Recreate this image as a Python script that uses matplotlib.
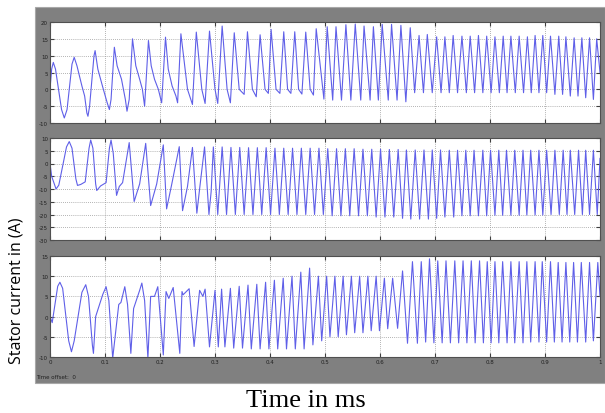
import matplotlib
matplotlib.use("Agg")
import matplotlib.pyplot as plt
from matplotlib.patches import Rectangle

# ---------------- data ----------------
top_t = [0, 0.003, 0.006, 0.010, 0.021, 0.026, 0.031, 0.040, 0.044, 0.049, 0.058, 0.063,
         0.067, 0.069, 0.072, 0.080, 0.082, 0.087, 0.092, 0.097, 0.104, 0.108, 0.111,
         0.117, 0.122, 0.130, 0.137, 0.140, 0.144,
         0.150, 0.156, 0.163, 0.168, 0.172, 0.179, 0.184, 0.190, 0.197, 0.203, 0.210, 0.215,
         0.222, 0.229, 0.232,
         0.238, 0.250, 0.259, 0.266, 0.276, 0.282, 0.290, 0.300, 0.305, 0.313, 0.322,
         0.328, 0.335, 0.344, 0.353, 0.359, 0.368, 0.375, 0.382, 0.391, 0.397, 0.402,
         0.411, 0.418, 0.425, 0.432, 0.438, 0.445, 0.452, 0.458, 0.465, 0.473, 0.479,
         0.484, 0.498, 0.504, 0.514, 0.520, 0.530, 0.538, 0.547, 0.555, 0.565, 0.571,
         0.582, 0.588, 0.597, 0.604, 0.615, 0.621, 0.631, 0.638, 0.647, 0.655, 0.663,
         0.671, 0.679, 0.686, 0.695, 0.703, 0.711, 0.718, 0.726, 0.733, 0.741, 0.749,
         0.757, 0.764, 0.772, 0.779, 0.787, 0.794, 0.802, 0.809, 0.817, 0.824, 0.831,
         0.838, 0.846, 0.853, 0.861, 0.868, 0.875, 0.882, 0.889, 0.896, 0.903, 0.910,
         0.918, 0.925, 0.932, 0.938, 0.946, 0.953, 0.960, 0.967, 0.974, 0.981, 0.988,
         0.994, 1.0]
top_v = [0, 6, 8, 6, -6, -8.5, -6, 7.5, 9.5, 7, 1, -2,
         -7, -8, -5, 10, 11.5, 6, 3, 0, -4, -6, -3,
         12.5, 7, 3, -3, -6.5, -3,
         15, 7, 3, 0, -5, 14.5, 7, 3, 0, -4, 15.5, 6,
         1, -2, -4,
         16.5, 0, -4.5, 17, 0, -4.2, 17.3, 0, -4.2, 18.8, 0,
         -4, 16.8, 0, -1.5, 17.1, 0, -2.2, 16.2, 0, -1.2, 17.8,
         0, -1.2, 17.1, 0, -1.2, 17.1, 0, -1.4, 17, 0, -1.7,
         18, -2.9, 18.6, -3.2, 18.6, -3.2, 19.2, -3.2, 19.4, -3.2, 18.8,
         -3.2, 18.6, -3.2, 19.3, -3.2, 19.3, -3.2, 19, -3.7, 18.3, -1,
         16, -1, 16.3, -1, 15.6, -1, 15.6, -1, 16, -1, 15.8,
         -1, 15.8, -1, 16, -1, 15.8, -1, 15.6, -1, 15.8, -1,
         15.8, -1, 15.8, -1, 15.6, -1, 16, -1, 16, -1, 15.8,
         -1.5, 15.8, -1.5, 15.6, -2, 15.3, -2, 15.3, -2.5, 15.3, -3,
         15, 5]

mid_t = [0, 0.003, 0.011, 0.016, 0.030, 0.035, 0.040, 0.047, 0.050, 0.056, 0.064, 0.071,
         0.074, 0.078, 0.083, 0.085, 0.092, 0.102, 0.108, 0.111, 0.115, 0.121, 0.126,
         0.132, 0.144,
         0.153, 0.163, 0.174, 0.183, 0.194, 0.206, 0.212, 0.221, 0.235, 0.241, 0.250,
         0.259, 0.267, 0.272, 0.281, 0.289, 0.293, 0.297, 0.305, 0.313, 0.321, 0.329,
         0.337, 0.345, 0.353, 0.361, 0.369, 0.377, 0.385, 0.393, 0.401, 0.409, 0.417,
         0.425, 0.433, 0.441, 0.449, 0.457, 0.465, 0.473, 0.481, 0.489, 0.497, 0.505,
         0.513, 0.521, 0.529, 0.537, 0.545, 0.553, 0.561, 0.569, 0.577, 0.585, 0.593,
         0.601, 0.609, 0.617, 0.625, 0.633, 0.641, 0.648, 0.656, 0.664, 0.672, 0.680,
         0.688, 0.695, 0.703, 0.710, 0.718, 0.726, 0.734, 0.741, 0.749, 0.756, 0.764,
         0.771, 0.779, 0.787, 0.794, 0.801, 0.809, 0.816, 0.823, 0.830, 0.838, 0.845,
         0.853, 0.860, 0.867, 0.874, 0.882, 0.889, 0.896, 0.903, 0.911, 0.918, 0.926,
         0.933, 0.940, 0.946, 0.954, 0.961, 0.968, 0.974, 0.981, 0.988, 0.995, 1.0]
mid_v = [0, -5, -10, -8.5, 6.5, 8.6, 6, -6, -8.6, -8.2, -7.2, 6,
         9.2, 6, -8, -10.6, -8.8, -7.5, 6, 9.2, 4, -12.5, -9,
         -7.5, 8.2,
         -14.9, -8, 7.9, -16.5, -8, 7.3, -17.8, -8.5, 6.6, -18.5, -9,
         6.3, -19.5, -10, 6.5, -20, -11, 6.5, -20, 6.5, -20, 6.3,
         -20, 6.3, -20, 6.2, -20, 6.2, -20, 6.2, -20, 6, -20,
         6, -20, 6, -20, 6, -20, 6, -20, 6, -20, 5.8,
         -20.5, 5.8, -20.5, 5.8, -20.5, 5.8, -20.5, 5.6, -20.5, 5.6, -21,
         5.6, -21, 5.5, -21, 5.5, -21.5, 5.3, -21.8, 5.3, -21.8, 5.3,
         -21.8, 5.3, -21.5, 5.3, -21, 5.2, -21, 5.2, -20.5, 5.2, -20.5,
         5.2, -20.5, 5.2, -20.5, 5.2, -20.3, 5.2, -20.3, 5.2, -20.3, 5.2,
         -20.3, 5.2, -20.2, 5.2, -20.2, 5.2, -20.2, 5.2, -20, 5.2, -20,
         5.2, -20, 5.2, -20, 5.2, -20, 5.2, -20, 5.2, -20, 2]

bot_t = [0, 0.004, 0.009, 0.014, 0.018, 0.023, 0.034, 0.039, 0.044, 0.058, 0.065, 0.070,
         0.077, 0.079, 0.083, 0.096, 0.102, 0.107, 0.114, 0.125, 0.129,
         0.136, 0.141, 0.147, 0.152, 0.163, 0.167, 0.172, 0.178, 0.183, 0.190, 0.196, 0.206,
         0.211, 0.216,
         0.224, 0.236, 0.240, 0.242, 0.253, 0.262, 0.272, 0.278, 0.282, 0.290, 0.300,
         0.306, 0.312, 0.318, 0.328, 0.334, 0.344, 0.350, 0.360, 0.366, 0.376, 0.382,
         0.392, 0.398, 0.408, 0.414, 0.424, 0.430, 0.440, 0.446, 0.456, 0.462, 0.472,
         0.478, 0.488, 0.494, 0.503, 0.509, 0.518, 0.524, 0.533, 0.539, 0.548, 0.554,
         0.563, 0.569, 0.578, 0.584, 0.593, 0.599, 0.608, 0.614, 0.623, 0.632, 0.641,
         0.650, 0.659, 0.668, 0.675, 0.683, 0.690, 0.698, 0.705, 0.713, 0.720, 0.728,
         0.736, 0.743, 0.751, 0.758, 0.766, 0.773, 0.781, 0.788, 0.795, 0.802, 0.809,
         0.816, 0.823, 0.831, 0.838, 0.845, 0.853, 0.860, 0.867, 0.874, 0.882, 0.889,
         0.895, 0.903, 0.910, 0.917, 0.924, 0.931, 0.938, 0.945, 0.952, 0.959, 0.966,
         0.974, 0.981, 0.988, 0.996, 1.0]
bot_v = [0, -1.5, 3, 7.5, 8.5, 7, -6, -8.7, -6, 6, 7.9, 5,
         -7, -9.1, 0, 5.5, 7.4, 4, -10.3, 3, 3.5,
         7.4, 3, -9.1, 2, 6.5, 8.3, 4, -10.3, 5, 5, 7.4, -9.5,
         6.2, 4.5,
         7.2, -9.1, 6.2, 5.4, 6.9, -7.4, 6.5, 5, 6.8, -7.5, 6.5,
         -7.5, 6.8, -7.5, 7, -7.8, 7.5, -7.8, 7.8, -8, 8, -8,
         8.5, -8, 9, -8, 9.5, -8, 10, -8, 11, -8, 12,
         -7, 10, -6, 10, -5, 10, -5, 10, -4.5, 10, -4,
         10, -4, 10, -3.5, 10, -3.5, 9.5, -3, 9.5, -2.9, 11.3,
         -6.6, 13.6, -6.6, 13.6, -6.3, 14.3, -6.5, 13.8, -6.5, 13.8, -6.5,
         13.8, -6.5, 13.8, -6.5, 13.8, -6.5, 13.8, -6.5, 13.6, -6.5, 13.6,
         -6.5, 13.6, -6.5, 13.6, -6.5, 13.6, -6.5, 13.6, -6.3, 13.6, -6.3,
         13.6, -6.3, 13.6, -6.3, 13.4, -6.3, 13.4, -6.3, 13.4, -6.3, 13.4,
         -6.3, 13.4, -6, 13.4, 5]

top_ylim = (-10, 20)
mid_ylim = (-30, 10)
bot_ylim = (-10, 15)
top_yticks = [-10, -5, 0, 5, 10, 15, 20]
mid_yticks = [-30, -25, -20, -15, -10, -5, 0, 5, 10]
bot_yticks = [-10, -5, 0, 5, 10, 15]
xticks = [0, 0.1, 0.2, 0.3, 0.4, 0.5, 0.6, 0.7, 0.8, 0.9, 1]
xtick_labels = ["0", "0.1", "0.2", "0.3", "0.4", "0.5", "0.6", "0.7", "0.8", "0.9", "1"]

# ---------------- figure ----------------
W, H = 605, 414
fig = plt.figure(figsize=(W / 100, H / 100), dpi=100)
fig.patch.set_facecolor("white")

def fx(px):
    return px / W

def fy(py):
    return 1 - py / H

# gray scope background (behind the axes)
bg = fig.add_axes([0, 0, 1, 1], zorder=-5)
bg.set_axis_off()
bg.set_xlim(0, W)
bg.set_ylim(H, 0)
bg.add_patch(Rectangle((35, 8), 570, 376, facecolor="#808080",
                       edgecolor="#a8a8a8", linewidth=0.8))

panels = [
    (top_t, top_v, top_ylim, top_yticks, 23, 124),
    (mid_t, mid_v, mid_ylim, mid_yticks, 139, 241),
    (bot_t, bot_v, bot_ylim, bot_yticks, 257, 358),
]

line_color = "#5f5fe8"
for i, (t, v, ylim, yticks, ptop, pbot) in enumerate(panels):
    ax = fig.add_axes([fx(50), fy(pbot), fx(550), (pbot - ptop) / H], zorder=1)
    ax.set_facecolor("white")
    ax.plot(t, v, color=line_color, linewidth=0.8, solid_joinstyle="round")
    ax.set_xlim(0, 1)
    ax.set_ylim(*ylim)
    ax.set_yticks(yticks)
    ax.set_xticks(xticks)
    ax.grid(True, color="#9a9a9a", linestyle=(0, (1, 1.5)), linewidth=0.6)
    ax.tick_params(direction="in", length=3, width=0.8, color="#404040",
                   labelsize=4, labelcolor="#202020", pad=1.5,
                   left=True, right=True, top=True, bottom=True)
    ax.set_yticklabels([str(y) for y in yticks])
    if i == 2:
        ax.set_xticklabels(xtick_labels)
    else:
        ax.set_xticklabels([])
    for s in ax.spines.values():
        s.set_color("#505050")
        s.set_linewidth(0.8)

fig.text(fx(36), fy(378), "Time offset:  0", fontsize=4, color="#202020",
         va="center", ha="left")

fig.text(fx(17), fy(291), "Stator current in (A)", rotation=90, fontsize=11.5,
         family=["Open Sans", "DejaVu Sans"], va="center", ha="center", color="black")

fig.text(fx(306), fy(401), "Time in ms", fontsize=19,
         family=["Liberation Serif", "DejaVu Serif"], va="center", ha="center",
         color="black")

fig.savefig("out.png", dpi=100)
